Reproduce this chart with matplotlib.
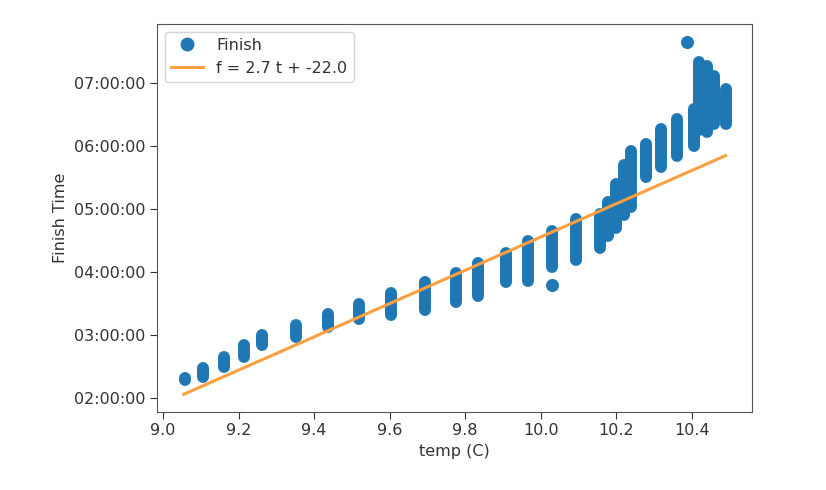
import matplotlib
matplotlib.use("Agg")
import matplotlib.pyplot as plt
from matplotlib.lines import Line2D
from matplotlib.ticker import FuncFormatter
import numpy as np

# columns of finish times (hours) per temperature: temp, lowest, highest
temps = [9.059, 9.106, 9.162, 9.215, 9.262, 9.352, 9.437, 9.519, 9.604, 9.694,
         9.775, 9.834, 9.908, 9.967, 10.029, 10.094, 10.157, 10.178, 10.199,
         10.22, 10.24, 10.28, 10.32, 10.36, 10.405, 10.42, 10.44, 10.46, 10.49]
low = [2.28, 2.33, 2.49, 2.65, 2.83, 2.97, 3.13, 3.25, 3.32, 3.40,
       3.52, 3.62, 3.83, 3.86, 4.08, 4.19, 4.38, 4.56, 4.70,
       4.90, 5.03, 5.50, 5.67, 5.84, 6.00, 6.25, 6.22, 6.35, 6.35]
high = [2.32, 2.48, 2.65, 2.83, 3.00, 3.16, 3.33, 3.49, 3.67, 3.83,
        3.98, 4.14, 4.30, 4.48, 4.65, 4.83, 4.92, 5.10, 5.40,
        5.70, 5.92, 6.03, 6.27, 6.43, 6.59, 7.33, 7.27, 7.10, 6.90]
# isolated points
out_t = [10.029, 10.387]
out_h = [3.79, 7.65]

slope, intercept = 2.64, -21.85
fit_t = [9.055, 10.49]

blue = "#1f77b4"
orange = "#ff9f40"

fig = plt.figure(figsize=(8.26, 4.9), dpi=100)
ax = fig.add_axes([0.190, 0.160, 0.720, 0.792])

ax.vlines(temps, low, high, colors=blue, linewidth=8.6, capstyle="round")
ax.scatter(out_t, out_h, s=70, color=blue, zorder=2)
ft = np.array(fit_t)
ax.plot(ft, slope * ft + intercept, color=orange, lw=2.2, zorder=3)

ax.set_xlim(8.984, 10.559)
ax.set_ylim(1.78, 7.94)
ax.set_xticks([9.0, 9.2, 9.4, 9.6, 9.8, 10.0, 10.2, 10.4])
ax.set_yticks([2, 3, 4, 5, 6, 7])
ax.yaxis.set_major_formatter(FuncFormatter(lambda v, p: f"{int(round(v)):02d}:00:00"))
ax.tick_params(labelsize=11.5, colors="#333333", length=5)
for s in ax.spines.values():
    s.set_color("#555555")
ax.set_xlabel("temp (C)", fontsize=11.5, color="#333333")
ax.set_ylabel("Finish Time", fontsize=11.5, color="#333333")

handles = [Line2D([], [], ls="none", marker="o", ms=9, color=blue),
           Line2D([], [], color=orange, lw=2.2)]
ax.legend(handles, ["Finish", "f = 2.7 t + -22.0"], loc="upper left",
          fontsize=11.5, labelcolor="#333333")

fig.savefig("out.png", dpi=100)
